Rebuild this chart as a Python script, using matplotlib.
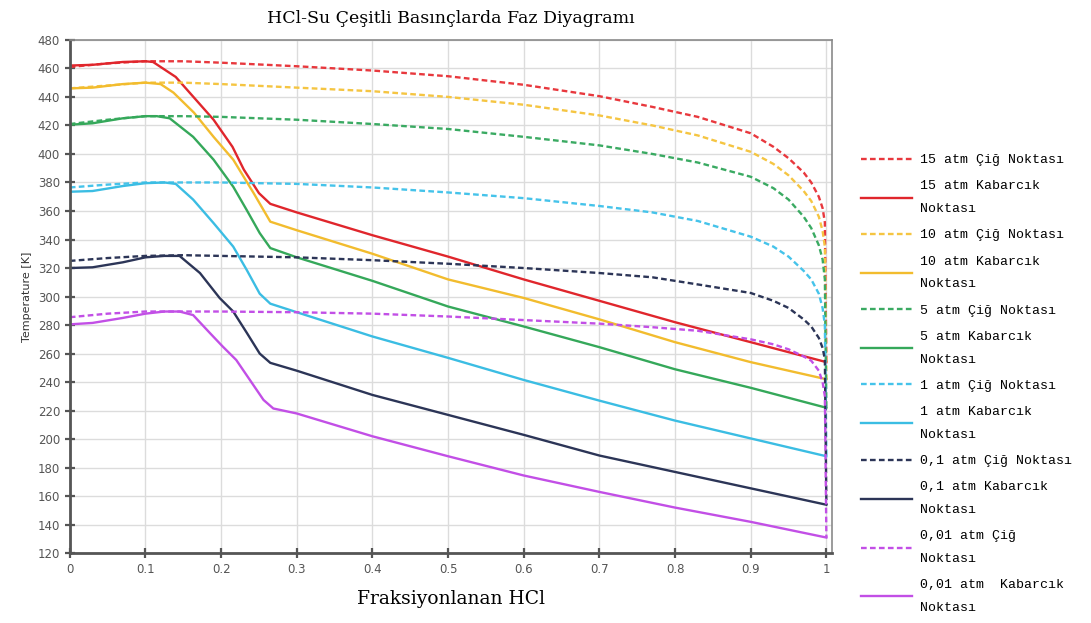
import matplotlib
matplotlib.use("Agg")
import matplotlib.pyplot as plt

# composition grid shared by the dew point curves
x_dew = [0, 0.05, 0.1, 0.15, 0.2, 0.3, 0.4, 0.5, 0.6, 0.7, 0.77, 0.83, 0.9, 0.93, 0.95,
         0.97, 0.98, 0.99, 0.995, 0.998, 1.0]

# dew point temperatures [K]
dew_15 = [461, 463.5, 465, 465, 464, 461.5, 458.5, 454.5, 448.5, 440.5, 433, 426, 414.5, 405, 397,
          387, 380, 370, 362, 352, 254]
dew_10 = [446, 448, 450, 450, 449, 446.5, 444, 440, 434.5, 427, 420, 413, 401.5, 393, 385,
          374, 367, 356, 346, 335, 242]
dew_5 = [421, 424, 426.5, 426.5, 426, 424, 421, 417.5, 412, 406, 400, 394, 384, 376, 368,
         356, 348, 336, 326, 312, 222]
dew_1 = [376.5, 378.5, 380, 380, 380, 379, 376.5, 373, 369, 363.5, 359, 353, 342, 335, 328,
         318, 312, 302, 292, 280, 188]
dew_01 = [325, 327, 328.5, 329, 328.5, 327.5, 325.5, 323, 320, 316.5, 313.5, 308.5, 302.5, 297, 292,
          284, 279, 271, 264, 256, 154]
dew_001 = [285.5, 288, 289.5, 289.5, 289.5, 289, 288, 286, 283.5, 281, 278.5, 276, 270, 266.5, 263,
           258, 255, 248, 240, 230, 131]

# bubble point curves
x_bub_15 = [0, 0.03, 0.07, 0.1, 0.11, 0.14, 0.17, 0.19, 0.215, 0.23, 0.25, 0.265, 0.3, 0.4, 0.5, 0.6, 0.7, 0.8, 0.9, 1.0]
bub_15 = [462, 462.5, 464.5, 465, 464.5, 454, 436, 424, 405, 389, 372.5, 365, 359, 343, 328, 312, 297, 282, 268, 254]

x_bub_10 = [0, 0.03, 0.07, 0.1, 0.12, 0.137, 0.164, 0.19, 0.216, 0.243, 0.265, 0.3, 0.4, 0.5, 0.6, 0.7, 0.8, 0.9, 1.0]
bub_10 = [446, 446.5, 449, 450, 449, 443, 429, 412, 396, 372.5, 352.5, 346.5, 330, 312, 299, 284, 268, 254, 242]

x_bub_5 = [0, 0.03, 0.07, 0.1, 0.115, 0.132, 0.163, 0.19, 0.216, 0.234, 0.251, 0.265, 0.3, 0.4, 0.5, 0.6, 0.7, 0.8, 0.9, 1.0]
bub_5 = [420.5, 421.5, 425, 426.5, 426.5, 425, 412, 396, 377, 360.5, 344.5, 334, 327.5, 311, 293, 279, 264.5, 249, 236, 222]

x_bub_1 = [0, 0.03, 0.07, 0.1, 0.125, 0.14, 0.163, 0.19, 0.216, 0.234, 0.251, 0.265, 0.3, 0.4, 0.5, 0.6, 0.7, 0.8, 0.9, 1.0]
bub_1 = [373.5, 374, 377.5, 379.5, 380, 379, 368, 351.5, 335, 318.5, 302, 295, 289, 272, 257, 241.5, 227, 213, 200.5, 188]

x_bub_01 = [0, 0.03, 0.07, 0.1, 0.125, 0.145, 0.172, 0.198, 0.216, 0.234, 0.251, 0.265, 0.3, 0.4, 0.5, 0.6, 0.7, 0.8, 0.9, 1.0]
bub_01 = [320, 320.5, 324, 327.5, 328.5, 328.5, 316.5, 299, 289.5, 274.5, 260, 253.5, 248, 231, 217, 203, 188.5, 177, 165.5, 154]

x_bub_001 = [0, 0.03, 0.07, 0.1, 0.125, 0.145, 0.163, 0.185, 0.202, 0.22, 0.238, 0.256, 0.269, 0.3, 0.4, 0.5, 0.6, 0.7, 0.8, 0.9, 1.0]
bub_001 = [280.5, 281.5, 285, 288, 289.5, 289.5, 287, 274.5, 265, 255.5, 241.5, 227.5, 221.5, 218, 202, 188, 174.5, 163, 152, 142, 131]

series = [
    ("15 atm Çiğ Noktası", x_dew, dew_15, "#e8383d", "--"),
    ("15 atm Kabarcık\nNoktası", x_bub_15, bub_15, "#e0262c", "-"),
    ("10 atm Çiğ Noktası", x_dew, dew_10, "#f5c542", "--"),
    ("10 atm Kabarcık\nNoktası", x_bub_10, bub_10, "#f2bc2e", "-"),
    ("5 atm Çiğ Noktası", x_dew, dew_5, "#3aaa62", "--"),
    ("5 atm Kabarcık\nNoktası", x_bub_5, bub_5, "#35a85a", "-"),
    ("1 atm Çiğ Noktası", x_dew, dew_1, "#45c3ea", "--"),
    ("1 atm Kabarcık\nNoktası", x_bub_1, bub_1, "#3bbde3", "-"),
    ("0,1 atm Çiğ Noktası", x_dew, dew_01, "#2c3557", "--"),
    ("0,1 atm Kabarcık\nNoktası", x_bub_01, bub_01, "#2c3557", "-"),
    ("0,01 atm Çiğ\nNoktası", x_dew, dew_001, "#c24fe6", "--"),
    ("0,01 atm  Kabarcık\nNoktası", x_bub_001, bub_001, "#c24fe6", "-"),
]

fig = plt.figure(figsize=(10.91, 6.23), dpi=100)
ax = fig.add_axes([0.064, 0.112, 0.699, 0.824])

for label, xs, ys, color, ls in series:
    if ls == "--":
        ax.plot(xs, ys, color=color, lw=1.7, ls=(0, (2.4, 1.4)), label=label)
    else:
        ax.plot(xs, ys, color=color, lw=1.7, label=label)

ax.set_xlim(0, 1.008)
ax.set_ylim(120, 480)
ax.set_xticks([i / 10 for i in range(11)])
ax.set_xticklabels(["0"] + [f"{i / 10:.1f}" for i in range(1, 10)] + ["1"])
ax.set_yticks(range(120, 481, 20))
ax.grid(True, color="#dcdcdc", lw=1)
ax.set_axisbelow(True)

for side in ["left", "bottom"]:
    ax.spines[side].set_color("#555555")
    ax.spines[side].set_linewidth(2)
for side in ["top", "right"]:
    ax.spines[side].set_color("#8a8a8a")
    ax.spines[side].set_linewidth(1.2)

ax.tick_params(direction="inout", length=7, width=1.6, color="#555555",
               labelsize=8.5, labelcolor="#555555")

ax.set_ylabel("Temperature [K]", fontsize=8, color="#333333", labelpad=4)
ax.set_xlabel("Fraksiyonlanan HCl", family="DejaVu Serif", fontsize=13.5, labelpad=10)
ax.set_title("HCl-Su Çeşitli Basınçlarda Faz Diyagramı", family="DejaVu Serif",
             fontsize=12.5, pad=12)

leg = fig.legend(loc="upper left", bbox_to_anchor=(0.778, 0.772), frameon=False,
                 prop={"family": "Liberation Mono", "size": 9.5},
                 handlelength=3.9, handletextpad=0.6, labelspacing=1.07)
for t in leg.get_texts():
    t.set_linespacing(2.2)

fig.savefig("out.png", dpi=100)
